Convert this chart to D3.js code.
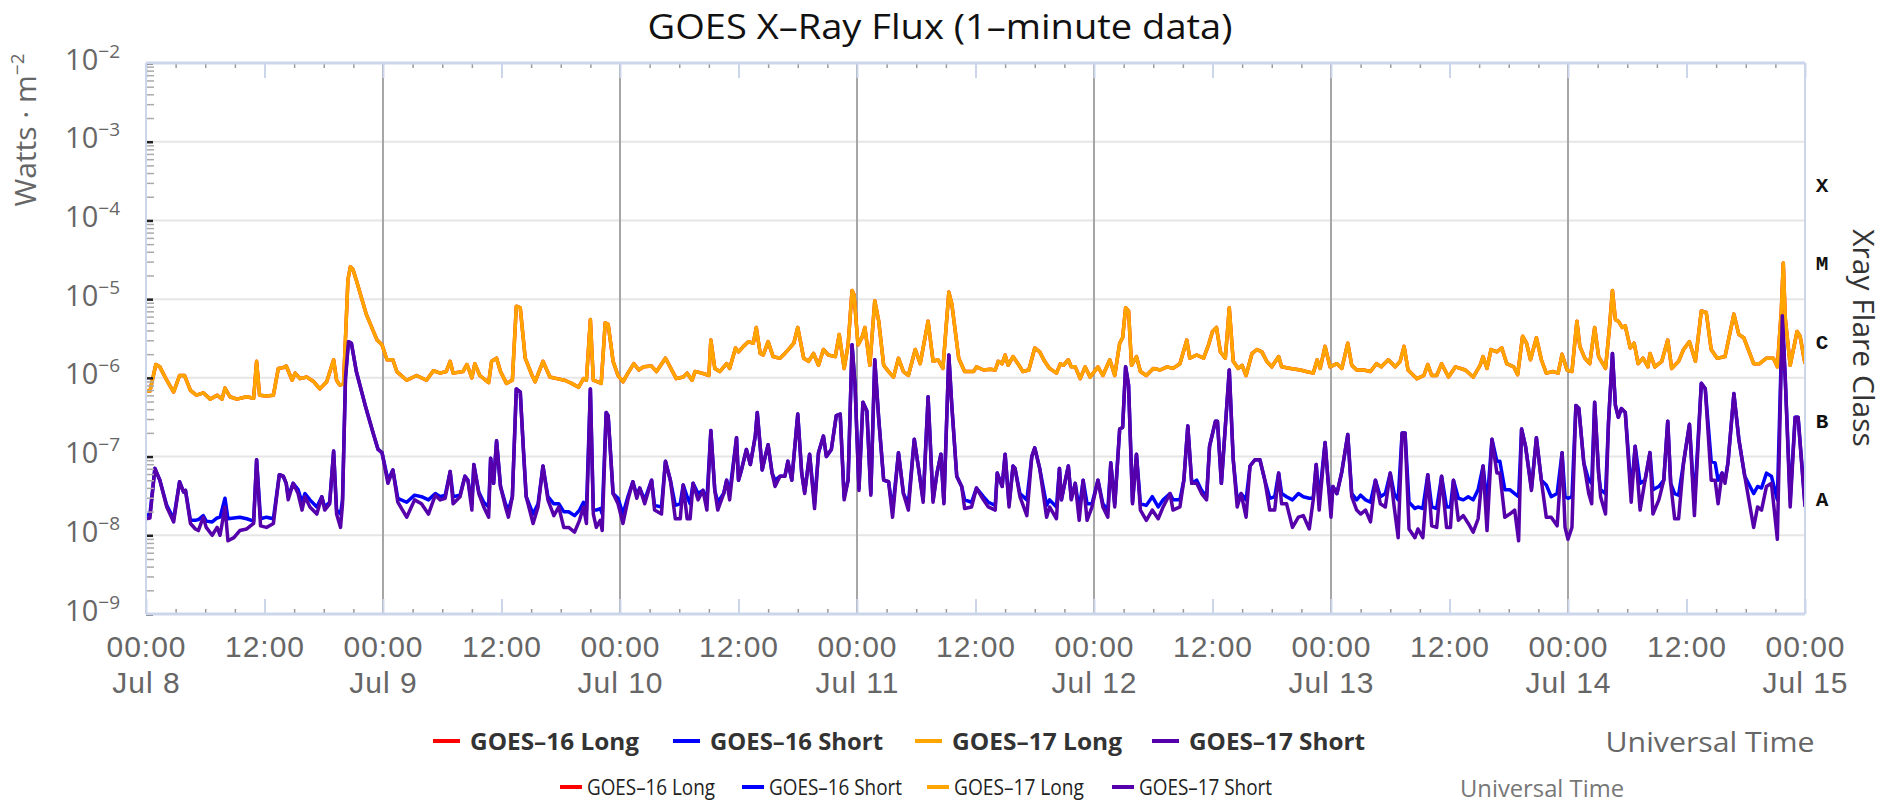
<!DOCTYPE html>
<html>
<head>
<meta charset="utf-8">
<script src="https://d3js.org/d3.v7.min.js"></script>
<style>
  body { margin: 0; background: #fff; }
  svg { display: block; }
  text { font-family: "Open Sans", "Liberation Sans", sans-serif; }
</style>
</head>
<body>
<svg id="chart" width="1889" height="802"></svg>
<script>
// hours after Jul 8 00:00 UT, values are log10(W m^-2)
var longHours = [
  0.0,0.4,1.0,1.4,2.1,2.8,3.4,3.9,4.5,5.1,
  5.8,6.5,7.2,7.7,8.0,8.5,9.2,10.2,10.9,11.2,
  11.5,12.2,12.9,13.4,13.9,14.2,14.8,15.1,15.6,16.3,
  17.0,17.6,18.3,19.0,19.3,19.6,20.0,20.2,20.45,20.7,
  20.95,21.3,22.3,23.4,23.9,24.4,25.0,25.4,26.4,27.4,
  28.4,29.1,29.8,30.4,30.8,31.1,32.1,32.5,33.0,33.3,
  33.8,34.7,35.0,35.5,35.9,36.5,37.1,37.5,37.9,38.4,
  39.1,39.4,40.2,40.9,41.6,42.4,43.1,43.8,44.3,44.6,
  45.0,45.3,46.1,46.5,46.8,47.3,47.8,48.3,48.8,49.4,
  49.9,50.4,51.2,51.7,52.6,52.9,53.7,54.4,54.8,55.3,
  55.6,56.3,57.0,57.2,57.6,58.1,58.8,59.1,59.7,60.0,
  60.5,61.0,61.5,61.8,62.2,62.5,63.0,63.5,64.2,64.7,
  65.2,65.6,66.0,66.6,67.1,67.6,68.1,68.6,69.1,69.8,
  70.2,70.7,71.1,71.5,71.7,72.1,72.5,72.8,73.3,73.8,
  74.2,74.7,75.2,75.7,76.2,76.7,77.2,77.9,78.4,79.2,
  79.7,80.2,80.7,81.3,81.6,82.3,82.9,83.8,84.1,84.8,
  85.5,86.0,86.3,86.7,87.0,87.3,87.8,88.3,88.8,89.4,
  90.0,90.5,91.0,91.5,92.2,92.6,92.9,93.4,93.7,94.1,
  94.6,95.1,95.6,96.4,96.9,97.6,98.1,98.6,98.9,99.2,
  99.5,99.8,100.3,100.7,101.3,102.0,102.7,103.4,104.0,104.7,
  105.4,105.7,106.4,107.1,107.6,108.0,108.4,108.8,109.3,109.7,
  110.1,110.6,111.0,111.4,112.0,112.5,113.0,113.5,114.0,114.7,
  115.0,115.9,116.9,117.5,118.2,118.6,118.9,119.4,119.9,120.6,
  121.1,121.7,122.1,122.6,123.3,124.0,124.6,125.1,125.8,126.5,
  127.0,127.4,127.8,128.7,129.4,129.8,130.2,130.7,131.2,131.9,
  132.6,133.6,134.4,135.1,135.4,135.8,136.2,136.8,137.3,137.8,
  138.5,138.9,139.4,139.8,140.2,140.8,141.3,141.8,142.5,143.0,
  143.4,143.9,144.4,144.9,145.2,145.7,146.2,146.7,147.1,147.8,
  148.2,148.5,148.8,149.1,149.5,149.8,150.3,150.7,151.1,151.6,
  152.1,152.3,152.8,153.5,154.1,154.5,155.2,155.7,156.3,156.9,
  157.5,158.0,158.5,159.1,159.9,160.8,161.3,161.8,162.8,163.4,
  164.1,164.8,165.2,165.6,165.8,166.0,166.5,167.2,167.5,168.0
];
var g17LongLog = [
  -6.16,-6.17,-5.83,-5.86,-6.03,-6.18,-5.97,-5.97,-6.16,-6.22,
  -6.19,-6.27,-6.22,-6.27,-6.13,-6.24,-6.27,-6.24,-6.26,-5.79,
  -6.22,-6.23,-6.22,-5.88,-5.87,-5.85,-6.03,-5.94,-6.01,-5.99,
  -6.05,-6.14,-6.05,-5.77,-6.03,-6.09,-6.08,-5.50,-4.75,-4.59,
  -4.62,-4.76,-5.19,-5.52,-5.58,-5.77,-5.77,-5.92,-6.03,-5.97,
  -6.03,-5.91,-5.94,-5.92,-5.79,-5.94,-5.92,-5.83,-6.00,-5.82,
  -5.97,-6.06,-5.79,-5.75,-5.92,-6.07,-6.03,-5.09,-5.11,-5.75,
  -5.97,-6.05,-5.79,-5.99,-6.01,-6.03,-6.07,-6.12,-6.01,-6.03,
  -5.26,-6.03,-6.07,-5.30,-5.32,-5.79,-5.97,-6.05,-5.94,-5.82,
  -5.90,-5.86,-5.85,-5.92,-5.75,-5.82,-6.01,-5.99,-5.94,-6.03,
  -5.92,-5.94,-5.97,-5.52,-5.88,-5.92,-5.82,-5.88,-5.62,-5.67,
  -5.60,-5.54,-5.56,-5.36,-5.69,-5.71,-5.54,-5.73,-5.75,-5.69,
  -5.62,-5.56,-5.36,-5.75,-5.79,-5.69,-5.84,-5.64,-5.71,-5.73,
  -5.45,-5.88,-5.58,-4.89,-4.94,-5.58,-5.49,-5.36,-5.84,-5.02,
  -5.28,-5.84,-5.92,-5.99,-5.75,-5.92,-5.97,-5.64,-5.82,-5.28,
  -5.79,-5.77,-5.88,-4.91,-5.06,-5.75,-5.92,-5.92,-5.86,-5.90,
  -5.89,-5.90,-5.79,-5.82,-5.71,-5.84,-5.73,-5.82,-5.92,-5.90,
  -5.62,-5.67,-5.79,-5.88,-5.94,-5.82,-5.84,-5.77,-5.86,-5.86,
  -6.01,-5.86,-5.99,-5.86,-5.97,-5.77,-5.97,-5.56,-5.49,-5.11,
  -5.15,-5.84,-5.73,-5.92,-5.97,-5.88,-5.90,-5.86,-5.88,-5.82,
  -5.52,-5.75,-5.71,-5.75,-5.58,-5.41,-5.36,-5.67,-5.75,-5.11,
  -5.79,-5.88,-5.84,-5.97,-5.69,-5.64,-5.67,-5.79,-5.86,-5.73,
  -5.86,-5.88,-5.90,-5.92,-5.94,-5.77,-5.88,-5.60,-5.86,-5.82,
  -5.88,-5.56,-5.84,-5.90,-5.90,-5.92,-5.82,-5.86,-5.77,-5.86,
  -5.79,-5.60,-5.90,-6.01,-5.97,-5.83,-5.97,-5.97,-5.82,-5.99,
  -5.86,-5.90,-5.99,-5.84,-5.73,-5.88,-5.64,-5.67,-5.62,-5.82,
  -5.86,-5.96,-5.47,-5.56,-5.77,-5.49,-5.77,-5.94,-5.92,-5.94,
  -5.70,-5.90,-5.92,-5.28,-5.60,-5.75,-5.82,-5.36,-5.73,-5.88,
  -5.36,-4.89,-5.26,-5.28,-5.36,-5.34,-5.62,-5.56,-5.82,-5.75,
  -5.86,-5.69,-5.86,-5.79,-5.52,-5.88,-5.79,-5.64,-5.54,-5.79,
  -5.15,-5.17,-5.64,-5.75,-5.73,-5.19,-5.45,-5.49,-5.82,-5.82,
  -5.75,-5.75,-5.86,-5.15,-4.54,-5.24,-5.84,-5.41,-5.47,-5.82
];
// GOES-16 long lies right under GOES-17 long in the picture
var g16LongLog = g17LongLog;

var shortHours = [
  0.0,0.4,0.9,1.4,2.1,2.8,3.4,3.8,4.0,4.5,
  5.0,5.3,5.8,6.1,6.7,7.2,7.5,8.0,8.3,8.9,
  9.5,10.2,10.9,11.2,11.6,12.2,12.9,13.5,13.9,14.2,
  14.4,14.9,15.4,15.8,16.1,16.6,17.3,17.8,18.1,18.6,
  19.0,19.3,19.7,19.9,20.2,20.5,20.8,21.3,22.2,23.0,
  23.5,23.9,24.5,25.0,25.5,26.4,27.2,27.9,28.6,29.3,
  29.8,30.3,30.8,31.1,31.8,32.3,32.6,33.0,33.2,33.7,
  34.2,34.7,34.9,35.2,35.5,35.9,36.4,36.7,37.1,37.5,
  37.9,38.2,38.5,39.2,39.7,40.2,40.7,41.3,41.8,42.3,
  42.8,43.4,43.9,44.3,44.6,45.0,45.3,45.6,46.0,46.2,
  46.6,46.8,47.3,47.8,48.3,48.8,49.3,49.7,50.0,50.5,
  51.2,51.5,52.2,52.6,53.1,53.6,54.1,54.4,54.8,55.1,
  55.4,55.9,56.4,56.8,57.2,57.6,57.9,58.5,58.8,59.1,
  59.8,60.0,60.3,60.8,61.2,61.7,61.9,62.4,62.7,63.0,
  63.4,63.7,64.2,64.7,65.0,65.4,66.0,66.4,66.7,67.2,
  67.7,68.1,68.6,68.9,69.4,69.9,70.3,70.7,71.1,71.5,
  71.8,72.2,72.6,73.0,73.4,73.8,74.2,74.7,75.2,75.6,
  76.2,76.7,77.2,77.8,78.2,78.7,79.2,79.7,80.1,80.5,
  80.8,81.3,81.6,82.1,82.6,82.9,83.6,84.1,84.8,85.3,
  86.0,86.2,86.7,87.0,87.4,87.8,88.0,88.5,89.2,89.7,
  90.0,90.5,91.2,91.5,92.2,92.5,92.7,93.1,93.4,93.7,
  94.1,94.5,94.9,95.3,95.8,96.4,96.9,97.4,97.7,98.1,
  98.6,98.9,99.2,99.5,99.9,100.3,100.7,101.3,101.9,102.5,
  103.0,103.7,104.0,104.7,105.1,105.5,105.9,106.4,106.9,107.4,
  107.7,108.3,108.5,108.9,109.7,110.1,110.5,110.9,111.4,111.8,
  112.3,112.8,113.3,113.8,114.3,114.7,115.0,115.5,116.1,116.7,
  117.2,117.8,118.2,118.5,118.8,119.4,119.7,120.0,120.2,120.6,
  121.1,121.7,122.1,122.6,123.0,123.5,124.0,124.5,125.0,125.5,
  126.0,126.4,126.8,127.2,127.5,127.9,128.5,128.8,129.3,129.8,
  130.2,130.7,131.2,131.7,132.1,132.4,132.9,133.4,133.9,134.4,
  134.9,135.4,135.8,136.3,136.8,137.1,137.6,138.1,138.6,139.0,
  139.3,139.7,140.3,140.8,141.3,141.8,142.3,142.9,143.4,143.7,
  144.0,144.4,144.8,145.1,145.6,146.1,146.4,146.7,147.1,147.3,
  147.8,148.1,148.5,148.8,149.1,149.4,149.8,150.4,150.8,151.3,
  151.8,152.3,152.6,153.2,153.7,154.1,154.4,154.8,155.2,155.7,
  156.3,156.8,157.5,157.9,158.5,158.9,159.2,159.6,159.9,160.2,
  160.8,161.3,161.9,162.8,163.2,163.6,164.1,164.6,165.2,165.7,
  166.0,166.5,167.0,167.3,168.0
];
var g17ShortLog = [
  -7.79,-7.78,-7.15,-7.30,-7.64,-7.83,-7.32,-7.45,-7.43,-7.85,
  -7.92,-7.94,-7.77,-7.90,-8.00,-7.90,-8.00,-7.64,-8.07,-8.03,
  -7.94,-7.92,-7.85,-7.04,-7.88,-7.90,-7.85,-7.23,-7.25,-7.34,
  -7.55,-7.34,-7.47,-7.68,-7.51,-7.64,-7.73,-7.51,-7.68,-7.60,
  -6.93,-7.73,-7.90,-7.60,-6.00,-5.54,-5.56,-5.92,-6.35,-6.70,
  -6.91,-6.95,-7.34,-7.17,-7.58,-7.77,-7.55,-7.60,-7.73,-7.49,
  -7.55,-7.53,-7.19,-7.60,-7.51,-7.25,-7.30,-7.68,-7.10,-7.47,
  -7.64,-7.77,-7.02,-7.34,-6.80,-7.38,-7.64,-7.77,-7.51,-6.14,
  -6.18,-6.87,-7.51,-7.85,-7.64,-7.12,-7.55,-7.75,-7.64,-7.90,
  -7.90,-7.96,-7.81,-7.64,-7.85,-6.14,-7.73,-7.90,-7.81,-7.94,
  -6.44,-6.48,-7.47,-7.60,-7.85,-7.55,-7.32,-7.53,-7.40,-7.60,
  -7.30,-7.68,-7.73,-7.06,-7.30,-7.79,-7.79,-7.36,-7.79,-7.79,
  -7.34,-7.55,-7.43,-7.68,-6.67,-7.43,-7.68,-7.47,-7.30,-7.55,
  -6.76,-7.30,-7.17,-6.91,-7.10,-6.74,-6.44,-7.17,-7.00,-6.85,
  -7.21,-7.38,-7.25,-7.25,-7.06,-7.30,-6.46,-7.21,-7.47,-6.97,
  -7.66,-6.95,-6.74,-7.00,-6.91,-6.48,-6.46,-7.55,-7.30,-5.58,
  -6.09,-7.43,-6.31,-6.42,-7.49,-5.77,-6.52,-7.30,-7.32,-7.77,
  -6.95,-7.47,-7.68,-6.78,-7.12,-7.58,-6.24,-7.58,-7.21,-6.97,
  -7.60,-5.71,-6.35,-7.25,-7.38,-7.66,-7.64,-7.40,-7.55,-7.64,
  -7.68,-7.21,-7.38,-6.97,-7.64,-7.12,-7.15,-7.51,-7.75,-7.00,
  -6.89,-7.15,-7.77,-7.64,-7.79,-7.15,-7.55,-7.30,-7.12,-7.55,
  -7.34,-7.81,-7.30,-7.81,-7.64,-7.30,-7.64,-7.77,-7.08,-7.64,
  -6.65,-6.63,-5.86,-6.09,-7.60,-6.97,-7.68,-7.81,-7.68,-7.79,
  -7.64,-7.47,-7.68,-7.64,-7.30,-6.61,-7.34,-7.34,-7.47,-7.55,
  -6.87,-6.55,-6.55,-7.34,-5.90,-7.04,-7.64,-7.47,-7.77,-7.12,
  -7.04,-7.04,-7.30,-7.68,-7.68,-7.21,-7.60,-7.60,-7.90,-7.77,
  -7.75,-7.92,-7.55,-7.10,-7.68,-6.82,-7.30,-7.77,-7.38,-7.47,
  -7.19,-6.72,-7.51,-7.68,-7.73,-7.68,-7.83,-7.30,-7.60,-7.64,
  -7.21,-7.64,-8.03,-6.70,-6.70,-7.92,-8.03,-7.92,-8.03,-7.23,
  -7.88,-7.90,-7.25,-7.90,-7.90,-7.30,-7.81,-7.75,-7.85,-7.96,
  -7.79,-7.12,-7.94,-6.78,-7.21,-7.21,-7.77,-7.73,-7.68,-8.07,
  -6.65,-6.87,-7.43,-6.76,-7.30,-7.77,-7.77,-7.88,-6.95,-7.90,
  -8.05,-7.90,-6.35,-6.39,-7.08,-7.47,-7.60,-6.31,-7.21,-7.51,
  -7.73,-6.57,-5.69,-6.35,-6.50,-6.39,-6.44,-7.58,-6.87,-7.68,
  -7.30,-6.95,-7.73,-7.55,-7.30,-6.55,-7.34,-7.79,-7.79,-7.08,
  -6.59,-7.75,-6.07,-6.14,-7.30,-7.30,-7.60,-7.21,-7.34,-7.08,
  -6.20,-6.78,-7.25,-7.90,-7.64,-7.68,-7.38,-7.34,-8.05,-5.21,
  -6.01,-7.64,-6.50,-6.50,-7.64
];
var g16ShortLog = [
  -7.75,-7.73,-7.15,-7.30,-7.62,-7.79,-7.32,-7.45,-7.43,-7.81,
  -7.81,-7.80,-7.75,-7.82,-7.83,-7.78,-7.77,-7.53,-7.79,-7.78,
  -7.77,-7.79,-7.82,-7.04,-7.79,-7.77,-7.79,-7.23,-7.25,-7.34,
  -7.51,-7.34,-7.42,-7.58,-7.47,-7.55,-7.64,-7.51,-7.64,-7.58,
  -6.93,-7.68,-7.73,-7.55,-6.00,-5.54,-5.56,-5.92,-6.35,-6.70,
  -6.91,-6.95,-7.30,-7.17,-7.53,-7.58,-7.49,-7.51,-7.55,-7.47,
  -7.51,-7.49,-7.19,-7.51,-7.49,-7.25,-7.30,-7.60,-7.10,-7.45,
  -7.58,-7.64,-7.02,-7.34,-6.80,-7.38,-7.60,-7.68,-7.51,-6.14,
  -6.18,-6.87,-7.51,-7.73,-7.60,-7.12,-7.51,-7.60,-7.60,-7.70,
  -7.70,-7.75,-7.68,-7.58,-7.68,-6.14,-7.68,-7.68,-7.66,-7.73,
  -6.44,-6.48,-7.47,-7.53,-7.73,-7.51,-7.32,-7.49,-7.40,-7.55,
  -7.30,-7.62,-7.64,-7.06,-7.30,-7.62,-7.60,-7.36,-7.51,-7.60,
  -7.34,-7.47,-7.43,-7.55,-6.67,-7.43,-7.58,-7.47,-7.30,-7.47,
  -6.76,-7.30,-7.17,-6.91,-7.10,-6.74,-6.44,-7.17,-7.00,-6.85,
  -7.21,-7.30,-7.25,-7.25,-7.06,-7.30,-6.46,-7.21,-7.45,-6.97,
  -7.60,-6.95,-6.74,-7.00,-6.91,-6.48,-6.46,-7.51,-7.30,-5.58,
  -6.09,-7.40,-6.31,-6.42,-7.47,-5.77,-6.52,-7.30,-7.32,-7.68,
  -6.95,-7.47,-7.60,-6.78,-7.12,-7.55,-6.24,-7.55,-7.21,-6.97,
  -7.58,-5.71,-6.35,-7.25,-7.38,-7.55,-7.58,-7.40,-7.51,-7.58,
  -7.62,-7.21,-7.38,-6.97,-7.60,-7.12,-7.15,-7.47,-7.55,-7.00,
  -6.89,-7.15,-7.62,-7.55,-7.64,-7.15,-7.55,-7.30,-7.12,-7.53,
  -7.34,-7.68,-7.30,-7.60,-7.60,-7.30,-7.60,-7.68,-7.08,-7.60,
  -6.65,-6.63,-5.86,-6.09,-7.58,-6.97,-7.60,-7.62,-7.51,-7.64,
  -7.55,-7.47,-7.55,-7.55,-7.30,-6.61,-7.34,-7.30,-7.43,-7.51,
  -6.87,-6.55,-6.55,-7.34,-5.90,-7.04,-7.55,-7.47,-7.55,-7.12,
  -7.04,-7.04,-7.30,-7.53,-7.51,-7.21,-7.47,-7.51,-7.55,-7.47,
  -7.51,-7.53,-7.53,-7.10,-7.55,-6.82,-7.30,-7.64,-7.38,-7.47,
  -7.19,-6.72,-7.47,-7.55,-7.49,-7.55,-7.58,-7.30,-7.51,-7.47,
  -7.21,-7.47,-7.55,-6.70,-6.70,-7.58,-7.66,-7.64,-7.66,-7.23,
  -7.64,-7.66,-7.25,-7.64,-7.64,-7.30,-7.53,-7.55,-7.51,-7.55,
  -7.42,-7.12,-7.60,-6.78,-7.06,-7.06,-7.42,-7.42,-7.47,-7.51,
  -6.65,-6.87,-7.40,-6.76,-7.30,-7.36,-7.51,-7.47,-6.95,-7.51,
  -7.53,-7.51,-6.35,-6.39,-7.08,-7.30,-7.34,-6.31,-7.21,-7.42,
  -7.47,-6.57,-5.69,-6.35,-6.50,-6.39,-6.44,-7.45,-6.87,-7.34,
  -7.30,-6.95,-7.42,-7.38,-7.30,-6.55,-7.34,-7.47,-7.49,-7.08,
  -6.59,-7.60,-6.07,-6.14,-7.06,-7.08,-7.30,-7.21,-7.30,-7.08,
  -6.20,-6.78,-7.25,-7.47,-7.38,-7.40,-7.21,-7.25,-7.55,-5.21,
  -6.01,-7.55,-6.50,-6.50,-7.60
];

var seriesNames = ['GOES-16 Long', 'GOES-16 Short', 'GOES-17 Long', 'GOES-17 Short'];
var seriesColors = ['#ff0000', '#0000ff', '#ffa500', '#5500aa'];
var dayLabels = ['Jul 8', 'Jul 9', 'Jul 10', 'Jul 11', 'Jul 12', 'Jul 13', 'Jul 14', 'Jul 15'];
var decades = [-9, -8, -7, -6, -5, -4, -3, -2];
var flareClasses = ['A', 'B', 'C', 'M', 'X'];
var flareDecades = [-8, -7, -6, -5, -4];

var svg = d3.select('#chart'),
  margin = { top: 63, left: 146, right: 84, bottom: 188 },
  W = +svg.attr('width'),
  H = +svg.attr('height'),
  x0 = margin.left,
  x1 = W - margin.right,
  y0 = margin.top,
  y1 = H - margin.bottom;

var x = d3.scaleLinear().domain([0, 168]).range([x0, x1]);
var y = d3.scaleLog().domain([1e-9, 1e-2]).range([y1, y0]);

// grid
svg.append('g')
  .selectAll('line')
  .data(decades)
  .enter()
  .append('line')
  .attr('x1', x0).attr('x2', x1)
  .attr('y1', d => y(Math.pow(10, d))).attr('y2', d => y(Math.pow(10, d)))
  .attr('stroke', '#e6e6e6').attr('stroke-width', 2);

svg.append('g')
  .selectAll('line')
  .data(d3.range(24, 168, 24))
  .enter()
  .append('line')
  .attr('x1', d => x(d)).attr('x2', d => x(d))
  .attr('y1', y0).attr('y2', y1)
  .attr('stroke', '#a6a6a6').attr('stroke-width', 2);

// series
var series = seriesNames.map(function(name, i) {
  var hrs = i % 2 === 0 ? longHours : shortHours;
  var vals = [g16LongLog, g16ShortLog, g17LongLog, g17ShortLog][i];
  return {
    name: name,
    color: seriesColors[i],
    values: hrs.map((h, j) => ({ h: h, v: Math.pow(10, vals[j]) }))
  };
});

svg.append('clipPath').attr('id', 'clip')
  .append('rect').attr('x', x0).attr('y', y0).attr('width', x1 - x0).attr('height', y1 - y0);

var line = d3.line().x(d => x(d.h)).y(d => y(d.v));

svg.append('g').attr('clip-path', 'url(#clip)')
  .selectAll('path')
  .data(series)
  .enter()
  .append('path')
  .attr('d', d => line(d.values))
  .attr('fill', 'none')
  .attr('stroke', d => d.color)
  .attr('stroke-width', 3.5)
  .attr('stroke-linejoin', 'round');

// x axes (ticks point inward)
var majorHours = d3.range(0, 169, 12);
var minorHours = d3.range(0, 169, 3).filter(h => h % 12 !== 0);

function styleAxis(g, color, width) {
  g.select('.domain').remove();
  g.selectAll('.tick line').attr('stroke', color).attr('stroke-width', width);
}

var bottomMinor = svg.append('g').attr('transform', 'translate(0,' + y1 + ')')
  .call(d3.axisBottom(x).tickValues(minorHours).tickSize(-5).tickFormat(''));
styleAxis(bottomMinor, '#999', 1.5);
var topMinor = svg.append('g').attr('transform', 'translate(0,' + y0 + ')')
  .call(d3.axisTop(x).tickValues(minorHours).tickSize(-5).tickFormat(''));
styleAxis(topMinor, '#999', 1.5);
var topMajor = svg.append('g').attr('transform', 'translate(0,' + y0 + ')')
  .call(d3.axisTop(x).tickValues(majorHours).tickSize(-15).tickFormat(''));
styleAxis(topMajor, '#ccd6eb', 2);

var tickFont = '"Liberation Sans", Arial, sans-serif';
var bottomMajor = svg.append('g').attr('transform', 'translate(0,' + y1 + ')')
  .call(d3.axisBottom(x).tickValues(majorHours).tickSize(-15)
    .tickFormat(h => (h % 24 === 0 ? '00:00' : '12:00')));
styleAxis(bottomMajor, '#ccd6eb', 2);
bottomMajor.selectAll('.tick text')
  .attr('y', 43).attr('dy', null)
  .attr('fill', '#666')
  .attr('font-family', null)
  .style('font-family', tickFont)
  .style('font-size', '30px')
  .style('letter-spacing', '1px');
bottomMajor.selectAll('.tick')
  .filter(h => h % 24 === 0)
  .append('text')
  .attr('y', 79)
  .attr('text-anchor', 'middle')
  .attr('fill', '#666')
  .style('font-family', tickFont)
  .style('font-size', '30px')
  .style('letter-spacing', '1px')
  .text(h => dayLabels[h / 24]);

// y axis
var minorVals = [];
decades.slice(0, -1).forEach(function(k) {
  for (var m = 2; m <= 9; m++) minorVals.push(m * Math.pow(10, k));
});
var leftMinor = svg.append('g').attr('transform', 'translate(' + x0 + ',0)')
  .call(d3.axisLeft(y).tickValues(minorVals).tickSize(-8).tickFormat(''));
styleAxis(leftMinor, '#aaa', 1.5);

var leftMajor = svg.append('g').attr('transform', 'translate(' + x0 + ',0)')
  .call(d3.axisLeft(y).tickValues(decades.map(k => Math.pow(10, k))).tickSize(-7).tickPadding(26));
styleAxis(leftMajor, '#222', 2.5);
leftMajor.selectAll('.tick text').each(function(v) {
  var t = d3.select(this);
  var k = Math.round(Math.log10(v));
  t.text(null)
    .attr('dy', 6)
    .attr('fill', '#666')
    .style('font-size', '29px')
    .attr('font-family', null);
  t.append('tspan').text('10');
  t.append('tspan').attr('dy', -12).style('font-size', '19px').text('\u2212' + Math.abs(k));
});

// plot border
svg.append('line').attr('x1', x0).attr('x2', x1).attr('y1', y0).attr('y2', y0)
  .attr('stroke', '#ccd6eb').attr('stroke-width', 3);
svg.append('line').attr('x1', x0).attr('x2', x1).attr('y1', y1).attr('y2', y1)
  .attr('stroke', '#ccd6eb').attr('stroke-width', 3);
svg.append('line').attr('x1', x0).attr('x2', x0).attr('y1', y0).attr('y2', y1)
  .attr('stroke', '#ccd6eb').attr('stroke-width', 2);
svg.append('line').attr('x1', x1).attr('x2', x1).attr('y1', y0).attr('y2', y1)
  .attr('stroke', '#ccd6eb').attr('stroke-width', 2);

// flare class letters
svg.append('g')
  .selectAll('text')
  .data(flareClasses)
  .enter()
  .append('text')
  .attr('x', x1 + 17)
  .attr('y', (d, i) => y(Math.pow(10, flareDecades[i] + 0.5)) + 5)
  .attr('text-anchor', 'middle')
  .attr('dominant-baseline', 'central')
  .style('font-family', '"Liberation Mono", "DejaVu Sans Mono", monospace')
  .style('font-weight', 'bold')
  .style('font-size', '21px')
  .attr('fill', '#111')
  .text(d => d);

// titles
svg.append('text')
  .attr('x', 940).attr('y', 39)
  .attr('text-anchor', 'middle')
  .style('font-size', '34px')
  .attr('textLength', 585).attr('lengthAdjust', 'spacingAndGlyphs')
  .attr('fill', '#111')
  .text('GOES X\u2013Ray Flux (1\u2013minute data)');

var yTitle = svg.append('text')
  .attr('transform', 'translate(36,130) rotate(-90)')
  .attr('text-anchor', 'middle')
  .style('font-size', '30px')
  .attr('fill', '#666');
yTitle.append('tspan').text('Watts \u00b7 m');
yTitle.append('tspan').attr('dy', -12).style('font-size', '19px').text('\u22122');

svg.append('text')
  .attr('transform', 'translate(1853,338) rotate(90)')
  .attr('text-anchor', 'middle')
  .style('font-size', '30px')
  .attr('fill', '#333')
  .text('Xray Flare Class');

// legends
var legendRows = [
  { y: 741, starts: [433, 673, 915, 1152], mark: 27, gap: 37, size: 23, weight: 'bold', widths: [169, 173, 170, 176], fill: '#333',
    ut: { x: 1710, size: 27, width: 209, fill: '#666' } },
  { y: 787, starts: [560, 742, 927, 1112], mark: 22, gap: 27, size: 21, weight: 'normal', widths: [128, 133, 130, 133], fill: '#222',
    ut: { x: 1542, size: 24, width: 164, fill: '#777' } }
];

legendRows.forEach(function(row) {
  var g = svg.append('g');
  var item = g.selectAll('g').data(series).enter().append('g')
    .attr('transform', (d, i) => 'translate(' + row.starts[i] + ',' + row.y + ')');
  item.append('line')
    .attr('x1', 0).attr('x2', row.mark)
    .attr('stroke', d => d.color).attr('stroke-width', 4);
  item.append('text')
    .attr('x', row.gap)
    .attr('dominant-baseline', 'central')
    .style('font-size', row.size + 'px')
    .style('font-weight', row.weight)
    .attr('textLength', (d, i) => row.widths[i])
    .attr('lengthAdjust', 'spacingAndGlyphs')
    .attr('fill', row.fill)
    .text(d => d.name.replace('-', '\u2013'));
  g.append('text')
    .attr('x', row.ut.x).attr('y', row.y)
    .attr('text-anchor', 'middle')
    .attr('dominant-baseline', 'central')
    .style('font-size', row.ut.size + 'px')
    .attr('textLength', row.ut.width)
    .attr('lengthAdjust', 'spacingAndGlyphs')
    .attr('fill', row.ut.fill)
    .text('Universal Time');
});
</script>
</body>
</html>
